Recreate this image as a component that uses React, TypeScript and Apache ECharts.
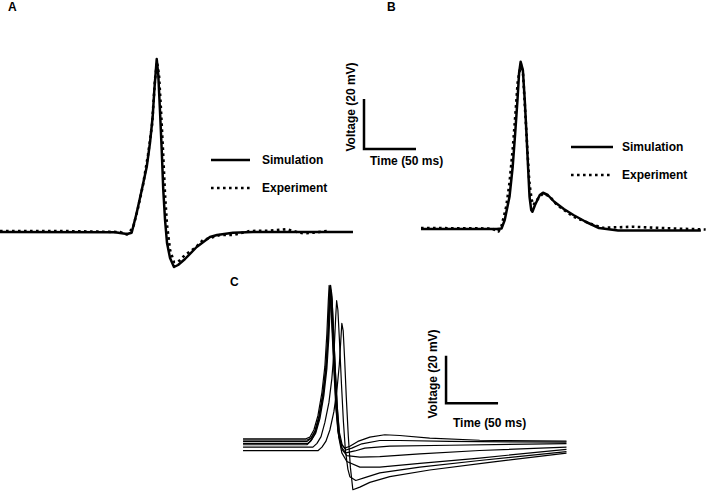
import React, { useEffect, useRef } from "react";
import * as echarts from "echarts";

// Panel A: time (ms), membrane voltage (mV)
const simA: [number, number][] = [
  [0, -70], [110.6, -70.1], [122.1, -70.8], [126.6, -70.3], [131.4, -62.4], [136.3, -53.2],
  [141.1, -43.9], [144.2, -34.4], [146.8, -23.9], [148.4, -13.2], [150.7, -0.8], [152.2, -7.2],
  [153.8, -21.2], [155.5, -37.2], [157, -53.2], [158.7, -65.2], [160.6, -74.4], [163.5, -80.4],
  [167.3, -84], [171.2, -83.2], [177.9, -80.8], [189.1, -76], [201.9, -72], [208.7, -71.2],
  [224, -70.3], [243.3, -70], [339.4, -70],
];
const expA: [number, number][] = [
  [0, -69.6], [57.7, -69.6], [115.4, -70], [122.1, -71], [127.9, -68.4], [132.7, -60.4],
  [137.5, -51.2], [142.3, -39.2], [146.2, -27.2], [149, -9.2], [151, -2], [152.9, -7.2],
  [154.8, -21.2], [156.7, -37.2], [158.7, -55.2], [160.6, -67.2], [163.5, -77.2], [167.3, -82],
  [171.2, -82], [177.9, -79.2], [187.5, -76.4], [195.2, -73.2], [211.5, -71.2], [224, -71.2],
  [240.4, -69.6], [256.7, -69.5], [276, -68.9], [281.7, -69.6], [291.3, -70.5], [301, -70.3],
  [314.4, -69.6],
];

// Panel B
const simB: [number, number][] = [
  [0, -70], [76, -70], [80.8, -69.8], [84, -66.4], [88.8, -57.1], [92, -45.1], [94.5, -31.7],
  [96.8, -18.4], [98.4, -7.7], [100, -3.1], [102.2, -6.4], [104.1, -18.4], [105.8, -31.6],
  [107.4, -45.1], [108.9, -57.1], [110.6, -62.4], [111.8, -63.1], [114.4, -60.4], [119.2, -56.4],
  [122.4, -55.5], [127.2, -56.4], [133.7, -59.1], [143.3, -62], [152.9, -64.4], [165.7, -67.2],
  [178.6, -69.6], [197.8, -70.6], [280.8, -70.6],
];
const expB: [number, number][] = [
  [0, -69.6], [71.2, -69.8], [77.6, -71.1], [80.8, -68.8], [85.6, -60.9], [88.8, -51.5],
  [92, -38.2], [94.7, -24.2], [97.1, -10.8], [100.3, -4], [102.4, -8], [104.8, -24.7],
  [106.7, -38.2], [108.7, -51.4], [111.1, -58.4], [112.8, -60.4], [116.3, -58.4], [122.1, -55.9],
  [128.8, -56.8], [136.5, -60.4], [152.9, -65.1], [168.9, -67.7], [181.7, -69.5], [213.5, -69.1],
  [245.9, -69.7], [285.6, -70.2],
];

// Panel C: simulated traces
const c1: [number, number][] = [
  [1, -69.3], [61.4, -69.3], [65.3, -68.6], [69.1, -65.6], [73, -59.6], [76.8, -50], [79.7, -38.8],
  [81.6, -25.2], [83, -11.2], [83.8, -4.8], [85, -8.8], [86.4, -22], [88.3, -40], [90.2, -56],
  [92.2, -66], [95, -71.2], [98.9, -73.2], [103.7, -72.4], [111.4, -70.4], [122.9, -68.6],
  [137.3, -67.6], [151.7, -67.9], [180.5, -69], [228.5, -69.9], [312, -70.3],
];
const c2: [number, number][] = [
  [1, -69.8], [62.7, -69.8], [66.6, -69], [70.4, -66], [74.3, -60], [78.1, -50.4], [81, -39],
  [82.9, -25.4], [84.4, -11.2], [85.2, -4.8], [86.4, -8.8], [87.8, -22], [89.7, -40], [91.6, -56],
  [93.6, -66.5], [96.4, -72], [100, -74], [105.6, -73.2], [115.2, -71.4], [132.5, -70],
  [151.7, -70], [199.7, -70.4], [312, -70.7],
];
const c3: [number, number][] = [
  [1, -70.4], [62.4, -70.4], [66.2, -69.2], [70.1, -66], [73.9, -60], [77.8, -50.4], [80.6, -39.2],
  [82.6, -26], [83.7, -12], [84.3, -6], [85.4, -10], [86.9, -23.2], [88.8, -41.2], [90.7, -57.2],
  [92.6, -67.2], [95.5, -72.8], [99.8, -75.2], [108.5, -74.4], [118.1, -73.2], [142.1, -72.4],
  [199.7, -72], [312, -71.3],
];
const c4: [number, number][] = [
  [1, -71.2], [63.4, -71.2], [67.2, -69.6], [71, -66.8], [74.9, -60.8], [78.7, -51.2], [81.6, -40],
  [83.5, -26.8], [84.9, -13.2], [85.4, -7.2], [86.6, -10.8], [88, -24], [89.9, -42], [91.9, -58],
  [93.8, -68.4], [96.5, -74], [100.8, -76.4], [113.3, -77], [132.5, -76.8], [171, -75.6],
  [228.5, -74.2], [312, -72.8],
];
const c5: [number, number][] = [
  [1, -71.8], [62.4, -71.8], [66.2, -70.2], [70.1, -67.2], [73.9, -61.2], [77.8, -51.2],
  [80.9, -39.6], [82.8, -26], [84.1, -11.2], [84.7, -5.2], [86, -9.2], [87.4, -22.8], [89.3, -41.2],
  [91.2, -58], [93.1, -68.8], [96, -75.2], [100.8, -78.8], [113.3, -81.2], [132.5, -81.2],
  [171, -79.6], [228.5, -77.4], [312, -73.7],
];
const c6: [number, number][] = [
  [1, -72.8], [68.2, -72.8], [72.1, -71.2], [76, -68.4], [79.7, -62.4], [83.6, -54], [86.4, -44],
  [88.6, -32], [90.1, -18], [91, -11.3], [92.2, -15.2], [93.7, -28], [95.6, -46], [97.5, -62],
  [99.4, -74], [101.8, -82], [103.7, -85.2], [109.4, -86.8], [118.1, -85.6], [132.5, -83.6],
  [171, -81.2], [228.5, -78.4], [312, -74.7],
];
const c7: [number, number][] = [
  [1, -74.3], [73, -74.3], [76.9, -72.8], [80.6, -70.4], [84.5, -65.6], [88.3, -58], [91.2, -49.2],
  [93.6, -38], [95, -28], [96, -20.8], [97.3, -24], [98.7, -36], [100.3, -52], [102.2, -68],
  [104.2, -81.2], [106.6, -90.7], [113.3, -89.6], [122.9, -87.6], [142.1, -85.2], [180.5, -82.4],
  [238.1, -79.2], [312, -75.3],
];

// Scale bars: 20 mV vertical, 50 ms horizontal
const scaleAB: [number, number][] = [[350, -16.8], [350, -36.8], [400, -36.8]];
const scaleC: [number, number][] = [[196.2, -34.4], [196.2, -54.4], [246.2, -54.4]];

const legendNames = ["Simulation", "Experiment"];
const voltageLabel = "Voltage (20 mV)";
const timeLabel = "Time (50 ms)";

const FONT = "'Liberation Sans', Arial, sans-serif";

export default function App() {
  const ref = useRef<HTMLDivElement>(null);
  useEffect(() => {
    const chart = echarts.init(ref.current!, null, { renderer: "svg" });
    const solid = (data: [number, number][], gi: number, w = 2.5, name = "Simulation") => ({
      type: "line",
      name,
      data,
      xAxisIndex: gi,
      yAxisIndex: gi,
      symbol: "none",
      silent: true,
      clip: false,
      lineStyle: { color: "#000", width: w, type: "solid", join: "round", cap: "butt" },
    });
    const dotted = (data: [number, number][], gi: number) => ({
      type: "line",
      name: "Experiment",
      data,
      xAxisIndex: gi,
      yAxisIndex: gi,
      symbol: "none",
      silent: true,
      clip: false,
      lineStyle: { color: "#000", width: 2.6, type: [2.6, 3.4], cap: "butt" },
    });
    const txt = (text: string, x: number, y: number, opts: any = {}) => ({
      type: "text",
      x,
      y,
      rotation: opts.rotation || 0,
      style: {
        text,
        fill: "#000",
        font: `bold 12px ${FONT}`,
        align: opts.align || "left",
        verticalAlign: "middle",
      },
    });
    const seg = (x1: number, y1: number, x2: number, y2: number, dash?: number[]) => ({
      type: "line",
      shape: { x1, y1, x2, y2 },
      style: { stroke: "#000", lineWidth: dash ? 2.6 : 2.5, lineDash: dash || null },
    });
    chart.setOption({
      animation: false,
      backgroundColor: "#fff",
      grid: [
        { left: 0, top: 32, width: 436.8, height: 250 },
        { left: 421, top: 29, width: 312, height: 250 },
        { left: 242, top: 250, width: 332.8, height: 262.5 },
      ],
      xAxis: [
        { type: "value", gridIndex: 0, min: 0, max: 420, show: false },
        { type: "value", gridIndex: 1, min: 0, max: 300, show: false },
        { type: "value", gridIndex: 2, min: 0, max: 320, show: false },
      ],
      yAxis: [
        { type: "value", gridIndex: 0, min: -90, max: 10, show: false },
        { type: "value", gridIndex: 1, min: -90, max: 10, show: false },
        { type: "value", gridIndex: 2, min: -95, max: 10, show: false },
      ],
      series: [
        solid(simA, 0),
        dotted(expA, 0),
        solid(simB, 1),
        dotted(expB, 1),
        solid(c1, 2, 1.2, "C1"),
        solid(c2, 2, 1.2, "C2"),
        solid(c3, 2, 1.2, "C3"),
        solid(c4, 2, 1.2, "C4"),
        solid(c5, 2, 1.2, "C5"),
        solid(c6, 2, 1.2, "C6"),
        solid(c7, 2, 1.2, "C7"),
        { ...solid(scaleAB, 0, 2.5, "scaleAB"), lineStyle: { color: "#000", width: 2.5, join: "miter" } },
        { ...solid(scaleC, 2, 2.5, "scaleC"), lineStyle: { color: "#000", width: 2.5, join: "miter" } },
      ],
      graphic: [
        txt("A", 8, 7),
        txt("B", 387, 7),
        txt("C", 230, 282),
        // legend A
        seg(211, 160, 250, 160),
        seg(211, 188, 250, 188, [2.6, 3.4]),
        txt(legendNames[0], 262, 160),
        txt(legendNames[1], 262, 188),
        // legend B
        seg(571, 147, 613, 147),
        seg(571, 175, 613, 175, [2.6, 3.4]),
        txt(legendNames[0], 622, 147),
        txt(legendNames[1], 622, 175),
        // scale labels
        txt(voltageLabel, 351, 107, { rotation: Math.PI / 2, align: "center" }),
        txt(timeLabel, 370, 161),
        txt(voltageLabel, 433, 374, { rotation: Math.PI / 2, align: "center" }),
        txt(timeLabel, 453, 423),
      ],
    });
    return () => chart.dispose();
  }, []);
  return (
    <div
      ref={ref}
      style={{ position: "fixed", left: 0, top: 0, width: 720, height: 500, background: "#fff" }}
    />
  );
}
